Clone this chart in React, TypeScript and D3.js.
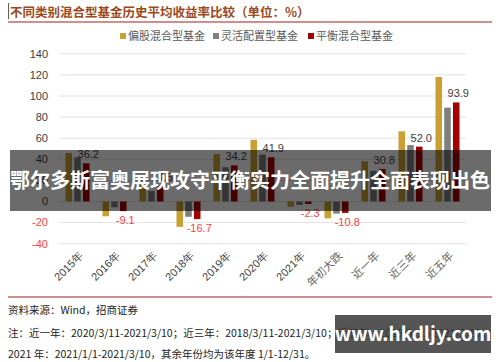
import React from 'react';
import * as d3 from 'd3';

const categories = ['2015年', '2016年', '2017年', '2018年', '2019年', '2020年', '2021年', '年初大跌', '近一年', '近三年', '近五年'];
const partialEquity = [46, -14, 15.5, -24, 45, 58.5, -5, -16, 38, 66.5, 118];
const flexible = [42, -5.5, 10, -14.5, 32.5, 44.5, -3.3, -11.5, 29, 53.5, 89];
const balanced = [36.2, -9.1, 14.5, -16.7, 34.2, 41.9, -2.3, -10.8, 30.8, 52.0, 93.9];
const yTicks = [-40, -20, 0, 20, 40, 60, 80, 100, 120, 140];

const seriesNames = ['偏股混合型基金', '灵活配置型基金', '平衡混合型基金'];
const seriesColors = ['#c9a032', '#7f7f7f', '#a50000'];

const title = '不同类别混合型基金历史平均收益率比较（单位：%）';
const sourceLine = '资料来源：Wind，招商证券';
const noteLine1 = '注：近一年：2020/3/11-2021/3/10；近三年：2018/3/11-2021/3/10；近五年：2016/3/11-2021/3/10；';
const noteLine2 = '2021 年：2021/1/1-2021/3/10，其余年份均为该年度 1/1-12/31。';
const bannerText = '鄂尔多斯富奥展现攻守平衡实力全面提升全面表现出色';
const watermark = 'www.hkdljy.com';

const cjk = '"Noto Sans CJK SC", sans-serif';
const latin = '"Liberation Sans", Arial, sans-serif';

export default function App() {
  const width = 500;
  const height = 362;
  const x = d3.scaleBand<string>().domain(categories).range([59, 466]);
  const y = d3.scaleLinear().domain([-40, 140]).range([243.7, 53.8]);
  const inner = d3.scaleBand<number>().domain([0, 1, 2]).range([-12, 12]).paddingInner(0.25);
  const series = [partialEquity, flexible, balanced];

  return (
    <svg width={width} height={height} style={{ position: 'absolute', left: 0, top: 0, background: '#fff' }}>
      {/* title */}
      <line x1={8.5} x2={8.5} y1={3} y2={19} stroke="#333" strokeWidth={0.8} />
      <text x={10} y={17} fontFamily={cjk} fontWeight="bold" fontSize={12.5} fill="#9a4a1c">{title}</text>
      <line x1={8} x2={492} y1={22} y2={22} stroke="#c06a6a" strokeWidth={1.5} />

      {/* legend */}
      {seriesNames.map((name, i) => {
        const lx = [120, 213, 308][i];
        return (
          <g key={name}>
            <rect x={lx} y={33} width={6} height={6} fill={seriesColors[i]} />
            <text x={lx + 8} y={40} fontFamily={cjk} fontSize={11} fill="#595959">{name}</text>
          </g>
        );
      })}

      {/* grid + y axis */}
      {yTicks.map(t => (
        <g key={t}>
          <line x1={59} x2={466} y1={y(t)} y2={y(t)} stroke="#e2e2e2" strokeWidth={1} />
          <text x={48} y={y(t)} dy="0.35em" textAnchor="end" fontFamily={latin} fontSize={11}
            fill={t < 0 ? '#ff4040' : '#404040'}>{t}</text>
        </g>
      ))}

      {/* bars */}
      {series.map((vals, si) => vals.map((v, ci) => {
        const cx = (x(categories[ci]) as number) + x.bandwidth() / 2;
        return (
          <rect key={`${si}-${ci}`} x={cx + (inner(si) as number)} width={inner.bandwidth()}
            y={Math.min(y(v), y(0))} height={Math.abs(y(v) - y(0))} fill={seriesColors[si]} />
        );
      }))}

      {/* labels on balanced series */}
      {balanced.map((v, ci) => {
        const cx = (x(categories[ci]) as number) + x.bandwidth() / 2 + (inner(2) as number) + inner.bandwidth() / 2;
        return (
          <text key={ci} x={cx + 2} y={v >= 0 ? y(v) - 5 : y(v) + 13} textAnchor="middle" fontFamily={latin}
            fontSize={11} fill={v >= 0 ? '#404040' : '#ff4040'}>{v.toFixed(1)}</text>
        );
      })}

      {/* x labels */}
      {categories.map(c => {
        const cx = (x(c) as number) + x.bandwidth() / 2;
        return (
          <text key={c} transform={`translate(${cx + 1},${251}) rotate(-45)`} textAnchor="end" dy="0.7em"
            fontFamily={/\d/.test(c) ? latin : cjk} fontSize={11} fill={/\d/.test(c) ? '#404040' : '#666'}>{c}</text>
        );
      })}

      <line x1={8} x2={492} y1={297} y2={297} stroke="#c06a6a" strokeWidth={1.5} />

      {/* source and notes */}
      <text x={8} y={314} fontFamily={cjk} fontSize={10.5} fill="#222">{sourceLine}</text>
      <text x={8} y={337} fontFamily={cjk} fontSize={10.5} fill="#222">{noteLine1}</text>
      <text x={8} y={358} fontFamily={cjk} fontSize={10.5} fill="#222">{noteLine2}</text>

      {/* overlay banner */}
      <rect x={10} y={150} width={481} height={61} fill="rgba(0,0,0,0.58)" />
      <text x={250} y={181} dy="0.35em" textAnchor="middle" fontFamily={cjk} fontWeight="bold" fontSize={20}
        fill="#fff">{bannerText}</text>

      {/* watermark */}
      <rect x={335} y={315} width={156} height={38} fill="rgba(55,55,55,0.85)" />
      <text x={413} y={334} dy="0.35em" textAnchor="middle" fontFamily={cjk} fontWeight="bold" fontSize={19}
        fill="#fff">{watermark}</text>
    </svg>
  );
}
